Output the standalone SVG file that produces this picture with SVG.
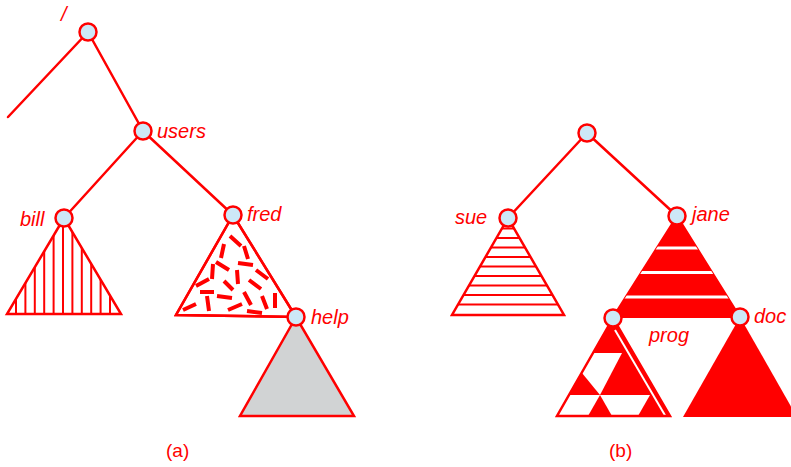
<svg xmlns="http://www.w3.org/2000/svg" width="791" height="467" viewBox="0 0 791 467">
<defs>
<style>
.edge{stroke:#ff0000;stroke-width:2.5;fill:none;stroke-linecap:round}
.node{fill:#cde8f7;stroke:#ff0000;stroke-width:2.5}
.lbl{font-family:"Liberation Sans",Arial,sans-serif;font-style:italic;font-size:20px;fill:#ff0000}
.cap{font-family:"Liberation Sans",Arial,sans-serif;font-size:19px;fill:#ff0000}
.tri{stroke:#ff0000;stroke-width:2.5;stroke-linejoin:miter}
.hatch{stroke:#ff0000;stroke-width:2}
.dash{stroke:#ff0000;stroke-width:4;stroke-linecap:butt}
</style>
<clipPath id="cBill"><polygon points="64,218 7,314 121,314"/></clipPath>
<clipPath id="cSue"><polygon points="508,218 452,315 564,315"/></clipPath>
<clipPath id="cJane"><polygon points="677,216 613,317 740,317"/></clipPath>
<clipPath id="cProg"><polygon points="613,318 557,416 670,416"/></clipPath>
<clipPath id="cFred"><polygon points="233,215 176,315 296,317"/></clipPath>
</defs>
<rect width="791" height="467" fill="#ffffff"/>

<g id="connectors">
<line class="edge" x1="88" y1="32" x2="8" y2="117"/>
<line class="edge" x1="88" y1="32" x2="143" y2="131"/>
<line class="edge" x1="143" y1="131" x2="64" y2="218"/>
<line class="edge" x1="143" y1="131" x2="233" y2="215"/>
<line class="edge" x1="587" y1="133" x2="508" y2="218"/>
<line class="edge" x1="587" y1="133" x2="677" y2="216"/>
</g>

<g id="tri-bill">
<g clip-path="url(#cBill)">
<path class="hatch" d="M16,210V320M25.4,210V320M34.8,210V320M44.2,210V320M53.6,210V320M63,210V320M72.4,210V320M81.8,210V320M91.2,210V320M100.6,210V320M110,210V320"/>
</g>
<polygon class="tri" points="64,218 7,314 121,314" fill="none"/>
</g>

<g id="tri-fred">
<polygon class="tri" points="233,215 176,315 296,317" fill="#ffffff"/>
<g clip-path="url(#cFred)">
<path class="dash" d="M230,236L241,246M224,244L221,258M244,246L248,259M216,262L229,270M238,263L253,265M213,264L212,279M237,270L238,284M256,270L268,279M209,279L196,286M224,281L233,290M249,280L261,289M200,292L214,292M217,296L232,298M244,292L251,305M207,296L209,311M262,296L267,309M275,293L275,308M183,310L196,304M228,310L242,304M247,311L262,313"/>
</g>
<polygon class="tri" points="233,215 176,315 296,317" fill="none"/>
</g>

<g id="tri-help">
<polygon class="tri" points="296,317 240,416 354,416" fill="#d1d3d4"/>
</g>

<g id="tri-sue">
<g clip-path="url(#cSue)">
<path class="hatch" d="M440,228.5H580M440,238H580M440,247.5H580M440,257H580M440,266.5H580M440,276H580M440,285.5H580M440,295H580M440,304.5H580"/>
</g>
<polygon class="tri" points="508,218 452,315 564,315" fill="none"/>
</g>

<g id="tri-jane">
<polygon points="677,216 613,317 740,317" fill="#ff0000" stroke="#ff0000" stroke-width="2"/>
<g clip-path="url(#cJane)">
<path stroke="#ffffff" stroke-width="3" d="M600,248H760M600,272.5H760M600,297H760"/>
</g>
</g>

<g id="tri-prog">
<polygon points="613,318 557,416 670,416" fill="#ff0000"/>
<g clip-path="url(#cProg)" fill="#ffffff">
<polygon points="590,353 622,353 600,395 582,373"/>
<polygon points="566,395 600,395 588,416 550,416"/>
<polygon points="600,395 650,395 638,416 612,416"/>
</g>
<line x1="615" y1="330" x2="666" y2="417" stroke="#ffffff" stroke-width="2"/>
<polygon class="tri" points="613,318 557,416 670,416" fill="none"/>
</g>

<g id="tri-doc">
<polygon points="740,317 683,417 797,417" fill="#ff0000"/>
</g>

<g id="n-root-a"><circle class="node" cx="88" cy="32" r="8.5"/><text class="lbl" x="61" y="21">/</text></g>
<g id="n-users"><circle class="node" cx="143" cy="131" r="8.5"/><text class="lbl" x="157" y="138">users</text></g>
<g id="n-bill"><circle class="node" cx="64" cy="218" r="8.5"/><text class="lbl" x="20" y="226">bill</text></g>
<g id="n-fred"><circle class="node" cx="233" cy="215" r="8.5"/><text class="lbl" x="247" y="221">fred</text></g>
<g id="n-help"><circle class="node" cx="296" cy="317" r="8.5"/><text class="lbl" x="311" y="324">help</text></g>

<g id="n-root-b"><circle class="node" cx="587" cy="133" r="8.5"/></g>
<g id="n-sue"><circle class="node" cx="508" cy="218" r="8.5"/><text class="lbl" x="455" y="224">sue</text></g>
<g id="n-jane"><circle class="node" cx="677" cy="216" r="8.5"/><text class="lbl" x="692" y="221">jane</text></g>
<g id="n-prog"><circle class="node" cx="613" cy="318" r="8.5"/><text class="lbl" x="649" y="342">prog</text></g>
<g id="n-doc"><circle class="node" cx="740" cy="317" r="8.5"/><text class="lbl" x="754" y="323">doc</text></g>

<text class="cap" x="166" y="457">(a)</text>
<text class="cap" x="609" y="457">(b)</text>
</svg>
